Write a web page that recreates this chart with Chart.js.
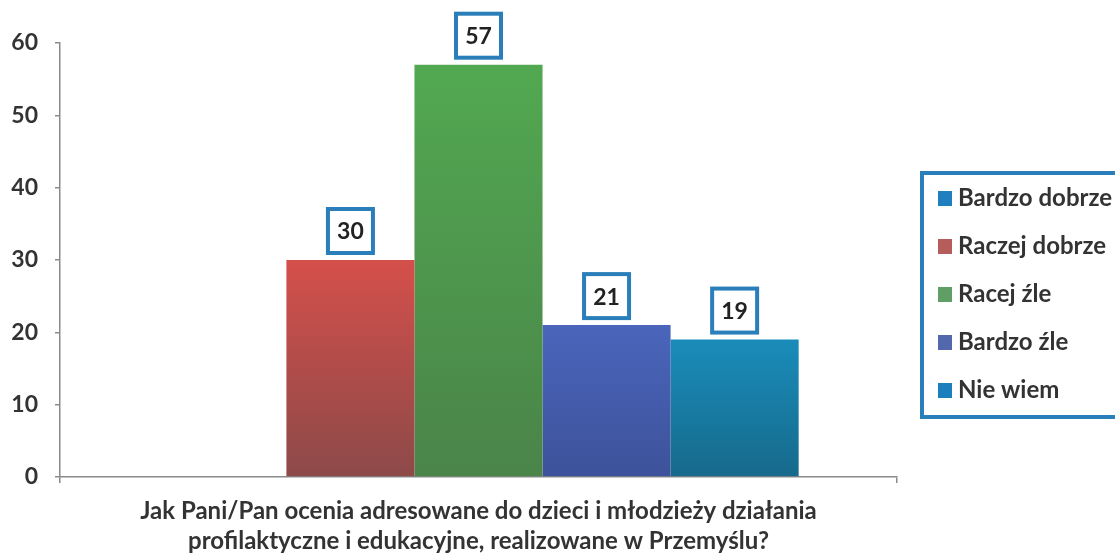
<!DOCTYPE html>
<html>
<head>
<meta charset="utf-8">
<script src="https://cdn.jsdelivr.net/npm/chart.js@4/dist/chart.umd.min.js"></script>
<style>
  html, body { margin: 0; padding: 0; background: #fff; overflow: hidden; }
  #wrap { width: 1115px; height: 553px; }
</style>
</head>
<body>
<div id="wrap"><canvas id="chart"></canvas></div>
<script>
// data
let categories = [['Jak Pani/Pan ocenia adresowane do dzieci i młodzieży działania', 'profilaktyczne i edukacyjne, realizowane w Przemyślu?']];
let seriesNames = ['Bardzo dobrze', 'Raczej dobrze', 'Racej źle', 'Bardzo źle', 'Nie wiem'];
let seriesValues = [0, 30, 57, 21, 19];
let yTicks = [0, 10, 20, 30, 40, 50, 60];

// bar colours: top / bottom of the soft gradient, plus legend swatch
let topColors = ['#1f80c0', '#d44f4b', '#52a851', '#4a65bb', '#1a8cba'];
let bottomColors = ['#1a6a9a', '#8c4a49', '#4a8449', '#3d529a', '#166a8b'];
let swatchColors = ['#1f7fbf', '#b65d5b', '#5f9e64', '#5367ad', '#1b7fbe'];

const FONT = 'Lato, "Open Sans", sans-serif';
const TEXT = '#333333';
const FRAME = '#2a7fba';

function barGradient(i) {
  return function (context) {
    const chart = context.chart;
    const y = chart.scales.y;
    if (!chart.chartArea || !y) return topColors[i];
    const top = y.getPixelForValue(seriesValues[i]);
    const bottom = y.getPixelForValue(0);
    if (bottom - top < 1) return topColors[i];
    const g = chart.ctx.createLinearGradient(0, top, 0, bottom);
    g.addColorStop(0, topColors[i]);
    g.addColorStop(1, bottomColors[i]);
    return g;
  };
}

let datasets = seriesNames.map(function (name, i) {
  return {
    label: name,
    data: [seriesValues[i]],
    backgroundColor: barGradient(i),
    borderWidth: 0
  };
});

// boxed value labels above each bar
const boxedLabels = {
  id: 'boxedLabels',
  afterDatasetsDraw(chart) {
    const ctx = chart.ctx;
    ctx.save();
    ctx.font = 'bold 23px ' + FONT;
    ctx.textAlign = 'center';
    ctx.textBaseline = 'middle';
    chart.data.datasets.forEach(function (ds, i) {
      const meta = chart.getDatasetMeta(i);
      meta.data.forEach(function (bar, j) {
        const v = ds.data[j];
        if (!v) return;
        const w = 45, h = 44;
        const cx = bar.x;
        const bottom = bar.y - 7;
        ctx.fillStyle = '#fff';
        ctx.fillRect(cx - w / 2, bottom - h, w, h);
        ctx.lineWidth = 4;
        ctx.strokeStyle = FRAME;
        ctx.strokeRect(cx - w / 2, bottom - h, w, h);
        ctx.fillStyle = '#222';
        ctx.fillText(String(v), cx, bottom - h / 2 + 1);
      });
    });
    ctx.restore();
  }
};

// framed legend on the right, running off the edge like the scan
const sideLegend = {
  id: 'sideLegend',
  afterDraw(chart) {
    const ctx = chart.ctx;
    const left = 922, top = 173, bottom = 417;
    ctx.save();
    ctx.lineWidth = 4;
    ctx.strokeStyle = FRAME;
    ctx.strokeRect(left, top, 260, bottom - top);
    ctx.font = 'bold 24px ' + FONT;
    ctx.textBaseline = 'middle';
    ctx.textAlign = 'left';
    seriesNames.forEach(function (name, i) {
      const y = 198 + i * 48;
      ctx.fillStyle = swatchColors[i];
      ctx.fillRect(938, y - 7, 14, 15);
      ctx.fillStyle = TEXT;
      ctx.fillText(name, 958, y);
    });
    ctx.restore();
  }
};

new Chart(document.getElementById('chart'), {
  type: 'bar',
  data: { labels: [''], datasets: datasets },
  options: {
    responsive: true,
    maintainAspectRatio: false,
    animation: false,
    layout: { padding: { left: 8, right: 218, top: 43, bottom: 0 } },
    categoryPercentage: 0.765,
    barPercentage: 1.0,
    plugins: {
      legend: { display: false },
      tooltip: { enabled: false }
    },
    scales: {
      x: {
        grid: { display: true, drawOnChartArea: false, offset: true, tickLength: 6, color: '#8a8a8a', lineWidth: 1.5 },
        border: { display: true, color: '#8a8a8a', width: 1.5 },
        ticks: { display: false },
        afterFit: function (axis) { axis.height = 76; },
        title: {
          display: true,
          text: categories[0],
          color: TEXT,
          font: { family: FONT, size: 24, weight: 'bold', lineHeight: 1.25 },
          padding: { top: 14, bottom: -3 }
        }
      },
      y: {
        min: 0,
        max: 60,
        afterBuildTicks: function (axis) { axis.ticks = yTicks.map(function (v) { return { value: v }; }); },
        afterFit: function (axis) { axis.width = 52; },
        grid: { display: true, drawOnChartArea: false, tickLength: 5, color: '#8a8a8a', lineWidth: 1.5 },
        border: { display: true, color: '#8a8a8a', width: 1.5 },
        ticks: {
          color: TEXT,
          padding: 17,
          font: { family: FONT, size: 23, weight: 'bold' }
        }
      }
    }
  },
  plugins: [boxedLabels, sideLegend]
});
</script>
</body>
</html>
